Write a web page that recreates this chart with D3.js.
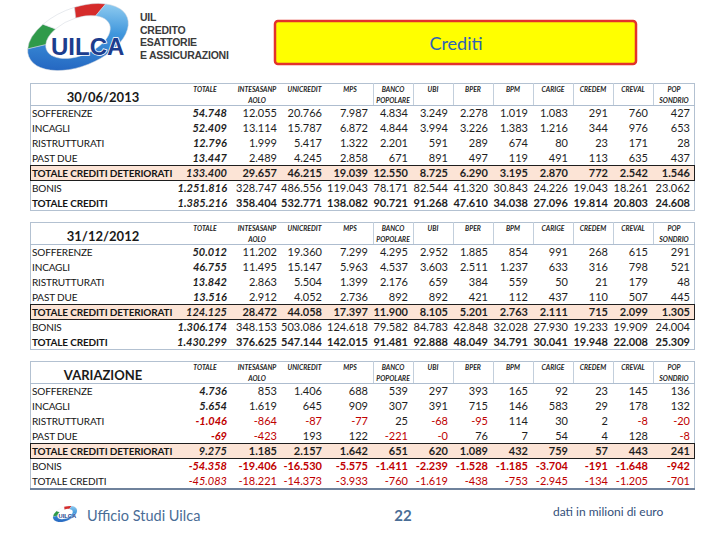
<!DOCTYPE html>
<html>
<head>
<meta charset="utf-8">
<script src="https://cdn.jsdelivr.net/npm/d3@7"></script>
<style>
body { margin: 0; background: #fff; }
svg { display: block; font-family: Lato, "Open Sans", sans-serif; }
</style>
</head>
<body>
<svg width="720" height="540"></svg>
<script>
// column / row names
var columns = ["TOTALE", "INTESASANPAOLO", "UNICREDIT", "MPS", "BANCO POPOLARE", "UBI",
    "BPER", "BPM", "CARIGE", "CREDEM", "CREVAL", "POP SONDRIO"];
var columnHeaders = [["TOTALE"], ["INTESASANP", "AOLO"], ["UNICREDIT"], ["MPS"], ["BANCO", "POPOLARE"],
    ["UBI"], ["BPER"], ["BPM"], ["CARIGE"], ["CREDEM"], ["CREVAL"], ["POP", "SONDRIO"]];
var rowLabels = ["SOFFERENZE", "INCAGLI", "RISTRUTTURATI", "PAST DUE",
    "TOTALE CREDITI DETERIORATI", "BONIS", "TOTALE CREDITI"];
var sectionTitles = ["30/06/2013", "31/12/2012", "VARIAZIONE"];

// values in milioni di euro, one row per category, TOTALE first
var values2013 = [
    [54748, 12055, 20766, 7987, 4834, 3249, 2278, 1019, 1083, 291, 760, 427],
    [52409, 13114, 15787, 6872, 4844, 3994, 3226, 1383, 1216, 344, 976, 653],
    [12796, 1999, 5417, 1322, 2201, 591, 289, 674, 80, 23, 171, 28],
    [13447, 2489, 4245, 2858, 671, 891, 497, 119, 491, 113, 635, 437],
    [133400, 29657, 46215, 19039, 12550, 8725, 6290, 3195, 2870, 772, 2542, 1546],
    [1251816, 328747, 486556, 119043, 78171, 82544, 41320, 30843, 24226, 19043, 18261, 23062],
    [1385216, 358404, 532771, 138082, 90721, 91268, 47610, 34038, 27096, 19814, 20803, 24608]
];
var values2012 = [
    [50012, 11202, 19360, 7299, 4295, 2952, 1885, 854, 991, 268, 615, 291],
    [46755, 11495, 15147, 5963, 4537, 3603, 2511, 1237, 633, 316, 798, 521],
    [13842, 2863, 5504, 1399, 2176, 659, 384, 559, 50, 21, 179, 48],
    [13516, 2912, 4052, 2736, 892, 892, 421, 112, 437, 110, 507, 445],
    [124125, 28472, 44058, 17397, 11900, 8105, 5201, 2763, 2111, 715, 2099, 1305],
    [1306174, 348153, 503086, 124618, 79582, 84783, 42848, 32028, 27930, 19233, 19909, 24004],
    [1430299, 376625, 547144, 142015, 91481, 92888, 48049, 34791, 30041, 19948, 22008, 25309]
];
var variazione = [
    [4736, 853, 1406, 688, 539, 297, 393, 165, 92, 23, 145, 136],
    [5654, 1619, 645, 909, 307, 391, 715, 146, 583, 29, 178, 132],
    [-1046, -864, -87, -77, 25, -68, -95, 114, 30, 2, -8, -20],
    [-69, -423, 193, 122, -221, -0, 76, 7, 54, 4, 128, -8],
    [9275, 1185, 2157, 1642, 651, 620, 1089, 432, 759, 57, 443, 241],
    [-54358, -19406, -16530, -5575, -1411, -2239, -1528, -1185, -3704, -191, -1648, -942],
    [-45083, -18221, -14373, -3933, -760, -1619, -438, -753, -2945, -134, -1205, -701]
];
var sections = [values2013, values2012, variazione];

var svg = d3.select("svg");

// italian number format
var it = d3.formatLocale({decimal: ",", thousands: ".", grouping: [3], currency: ["€", ""], minus: "-"});
var fmt = it.format(",d");
function show(v) {
    return Object.is(v, -0) ? "-0" : fmt(v);
}
function isNeg(v) {
    return v < 0 || Object.is(v, -0);
}

// layout
var tableLeft = 30, labelRight = 178;
var colWidths = [54, 50, 45, 46, 40, 40, 40, 40, 40, 40, 40, 42];
var edges = [labelRight].concat(Array.from(d3.cumsum(colWidths), function (d) { return labelRight + d; }));
var tableRight = edges[edges.length - 1];
var xLeft = d3.scaleOrdinal().domain(columns).range(edges.slice(0, -1));
var xRight = d3.scaleOrdinal().domain(columns).range(edges.slice(1));
var headH = 22, rowH = 15;
var y = d3.scaleBand().domain(rowLabels).range([headH, headH + rowH * rowLabels.length]);
var sectionTops = [83, 222, 361];

// per-section styling
var boldRows = [[4, 6], [4, 6], [4, 5]];
var boldLabels = [[4, 6], [4, 6], [4]];

sections.forEach(function (data, s) {
    var g = svg.append("g").attr("transform", "translate(0," + sectionTops[s] + ")");
    var h = headH + rowH * rowLabels.length;

    // highlighted total row
    g.append("rect")
        .attr("x", tableLeft)
        .attr("y", y(rowLabels[4]))
        .attr("width", tableRight - tableLeft)
        .attr("height", y.bandwidth())
        .attr("fill", "#fce4d6");

    // outer border
    g.append("rect")
        .attr("x", tableLeft + 0.5).attr("y", 0.5)
        .attr("width", tableRight - tableLeft - 1).attr("height", h)
        .attr("fill", "none")
        .attr("stroke", "#b3c1d1");

    // header underline
    g.append("line")
        .attr("x1", tableLeft).attr("x2", tableRight)
        .attr("y1", headH + 0.5).attr("y2", headH + 0.5)
        .attr("stroke", "#aebdcf");

    // header separators
    g.selectAll("line.sep")
        .data(columns.slice(4))
        .join("line")
        .attr("class", "sep")
        .attr("x1", function (d) { return Math.round(xLeft(d)) + 0.5; })
        .attr("x2", function (d) { return Math.round(xLeft(d)) + 0.5; })
        .attr("y1", 0).attr("y2", headH)
        .attr("stroke", "#c3cfdc");

    // box around total row
    g.append("rect")
        .attr("x", tableLeft + 0.5)
        .attr("y", y(rowLabels[4]) + 0.5)
        .attr("width", tableRight - tableLeft - 1)
        .attr("height", y.bandwidth())
        .attr("fill", "none")
        .attr("stroke", "#1e1e1e");

    if (s === 2) {
        g.append("line")
            .attr("x1", tableLeft).attr("x2", tableRight)
            .attr("y1", h + 1).attr("y2", h + 1)
            .attr("stroke", "#6f829c")
            .attr("stroke-width", 2);
    }

    // section title
    g.append("text")
        .attr("x", 103)
        .attr("y", 18.5)
        .attr("text-anchor", "middle")
        .attr("font-size", 13)
        .attr("font-weight", "bold")
        .attr("fill", "#1a1a1a")
        .text(sectionTitles[s]);

    // column headers
    columns.forEach(function (c, i) {
        var cx = (xLeft(c) + xRight(c)) / 2;
        g.append("g").selectAll("text")
            .data(columnHeaders[i])
            .join("text")
            .attr("x", cx)
            .attr("y", function (d, k) { return 9 + k * 11; })
            .attr("text-anchor", "middle")
            .attr("font-size", 6.8)
            .attr("font-style", "italic")
            .attr("font-weight", "bold")
            .attr("fill", "#222")
            .text(function (d) { return d; });
    });

    // rows
    rowLabels.forEach(function (label, r) {
        var cy = y(label) + y.bandwidth() / 2 + 4;
        var rowBold = boldRows[s].indexOf(r) >= 0;
        g.append("text")
            .attr("x", tableLeft + 2)
            .attr("y", cy)
            .attr("font-size", 10)
            .attr("letter-spacing", -0.15)
            .attr("font-weight", boldLabels[s].indexOf(r) >= 0 ? "bold" : "normal")
            .attr("fill", "#141414")
            .text(label);

        g.append("g").selectAll("text")
            .data(data[r])
            .join("text")
            .attr("x", function (d, i) { return xRight(columns[i]) - 5; })
            .attr("y", cy)
            .attr("text-anchor", "end")
            .attr("font-size", 11)
            .attr("font-style", function (d, i) { return i === 0 ? "italic" : "normal"; })
            .attr("font-weight", function (d, i) {
                if (i === 0) return (s === 2 && r === 6) ? "normal" : "bold";
                return rowBold ? "bold" : "normal";
            })
            .attr("fill", function (d) { return isNeg(d) ? "#c00000" : "#1e1e1e"; })
            .text(show);
    });
});

// title box
svg.append("rect")
    .attr("x", 275).attr("y", 21)
    .attr("width", 361).attr("height", 43)
    .attr("rx", 3)
    .attr("fill", "#ffff00")
    .attr("stroke", "#e3332b")
    .attr("stroke-width", 2.5);
svg.append("text")
    .attr("x", 456).attr("y", 50)
    .attr("text-anchor", "middle")
    .attr("font-size", 18)
    .attr("fill", "#2f62b5")
    .text("Crediti");

// logo
var defs = svg.append("defs");
var grad = defs.append("linearGradient").attr("id", "blueGrad")
    .attr("x1", "0").attr("y1", "1").attr("x2", "1").attr("y2", "0");
grad.append("stop").attr("offset", "0").attr("stop-color", "#1b56b8");
grad.append("stop").attr("offset", "0.6").attr("stop-color", "#3f96dc");
grad.append("stop").attr("offset", "1").attr("stop-color", "#9fd6f4");

function drawLogo(cx, cy, k) {
    var lg = svg.append("g").attr("transform", "translate(" + cx + "," + cy + ") scale(" + k + ")");
    var ring = lg.append("g").attr("transform", "rotate(-22) scale(1,0.55)");
    var arc = d3.arc().innerRadius(34).outerRadius(53);
    var segs = [
        {a0: -1.3, a1: -0.55, c: "#2f9a4a"},
        {a0: -0.55, a1: 0.15, c: "#ffffff"},
        {a0: 0.15, a1: 0.8, c: "#d52b2b"},
        {a0: 0.8, a1: 2 * Math.PI - 1.3, c: "url(#blueGrad)"}
    ];
    ring.selectAll("path")
        .data(segs)
        .join("path")
        .attr("d", function (d) { return arc({startAngle: d.a0, endAngle: d.a1}); })
        .attr("fill", function (d) { return d.c; })
        .attr("stroke", "#d0d6de")
        .attr("stroke-width", 0.6);
    lg.append("text")
        .attr("x", -27).attr("y", 18)
        .attr("font-family", "Liberation Sans, Arial, sans-serif")
        .attr("font-size", 24)
        .attr("font-weight", "bold")
        .attr("fill", "#1c3d8e")
        .attr("stroke", "#fff")
        .attr("stroke-width", 1.5)
        .attr("paint-order", "stroke")
        .text("UILCA");
}
drawLogo(78, 37, 1);
drawLogo(65, 514, 0.24);

svg.append("g").selectAll("text")
    .data(["UIL", "CREDITO", "ESATTORIE", "E ASSICURAZIONI"])
    .join("text")
    .attr("x", 140)
    .attr("y", function (d, i) { return 21 + i * 12.7; })
    .attr("font-family", "Liberation Sans, Arial, sans-serif")
    .attr("font-size", 10.5)
    .attr("font-weight", "bold")
    .attr("letter-spacing", -0.25)
    .attr("fill", "#3b3b3b")
    .text(function (d) { return d; });

// footer
svg.append("text")
    .attr("x", 87).attr("y", 521)
    .attr("font-size", 14.5)
    .attr("fill", "#4a6d96")
    .text("Ufficio Studi Uilca");
svg.append("text")
    .attr("x", 403).attr("y", 521)
    .attr("text-anchor", "middle")
    .attr("font-size", 15)
    .attr("font-weight", "bold")
    .attr("fill", "#4a6d96")
    .text("22");
svg.append("text")
    .attr("x", 553).attr("y", 516)
    .attr("font-size", 12)
    .attr("fill", "#34507a")
    .text("dati in milioni di euro");
</script>
</body>
</html>
